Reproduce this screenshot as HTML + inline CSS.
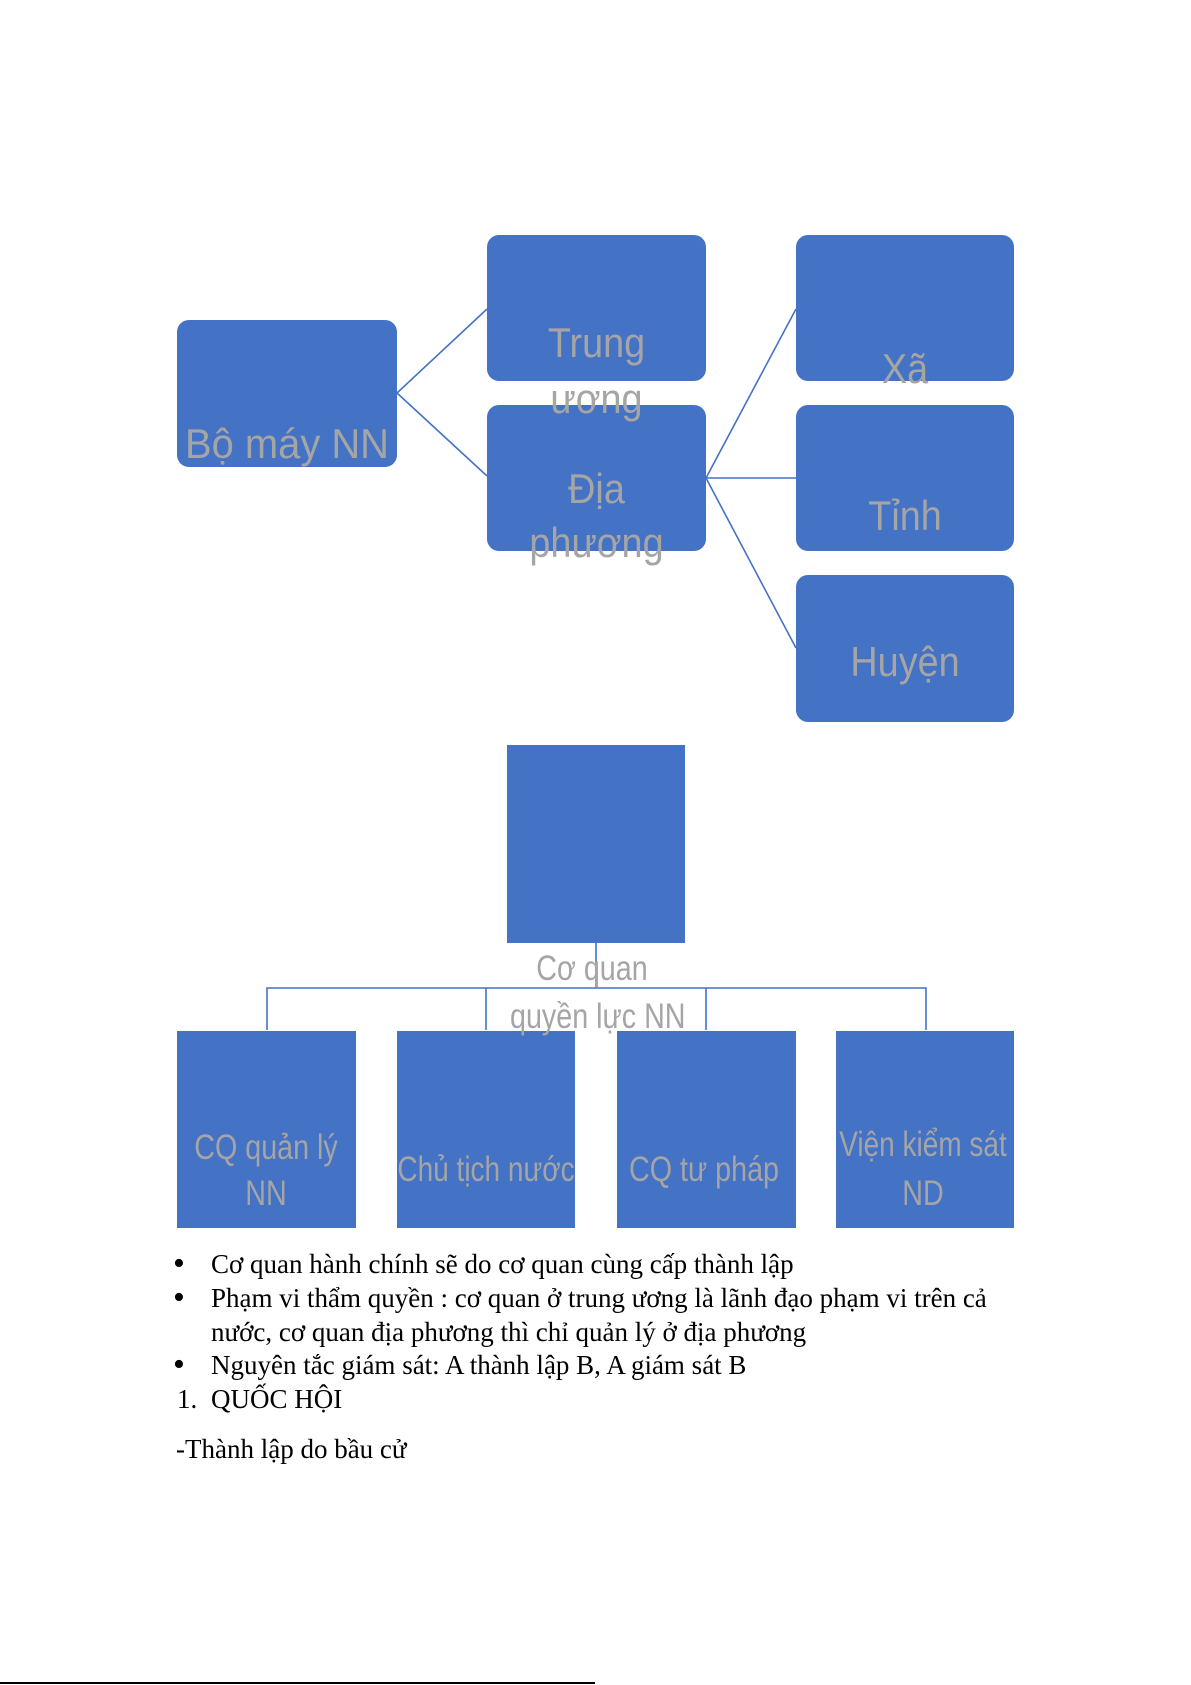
<!DOCTYPE html>
<html><head><meta charset="utf-8"><style>
body{margin:0;width:1191px;height:1685px;background:#fff;position:relative;overflow:hidden}
.b{position:absolute;background:#4472c4}
.r{border-radius:12px}
.t{position:absolute;font-family:"Liberation Sans",sans-serif;color:#a5a5a5;white-space:nowrap;text-align:center;line-height:1}
.p{position:absolute;font-family:"Liberation Serif",serif;font-size:27px;color:#000;white-space:nowrap;line-height:1}
.d{position:absolute;font-family:"Liberation Serif",serif;font-size:34px;line-height:1}
</style></head><body>
<svg style="position:absolute;left:0;top:0" width="1191" height="1685">
<g stroke="#4472c4" stroke-width="1.6" fill="none">
<path d="M397 393 L487 309 M397 393 L487 476"/>
<path d="M706 478 L796 309 M706 478 L796 478 M706 478 L796 648"/>
<path d="M596 943 L596 988 M267 1030 L267 988 L926 988 L926 1030 M486 988 L486 1030 M706 988 L706 1030"/>
</g>
<line x1="0" y1="1683" x2="595" y2="1683" stroke="#000" stroke-width="2"/>
</svg>
<div class="b r" style="left:177px;top:320px;width:220px;height:147px"></div>
<div class="b r" style="left:487px;top:235px;width:219px;height:146px"></div>
<div class="b r" style="left:487px;top:405px;width:219px;height:146px"></div>
<div class="b r" style="left:796px;top:235px;width:218px;height:146px"></div>
<div class="b r" style="left:796px;top:405px;width:218px;height:146px"></div>
<div class="b r" style="left:796px;top:575px;width:218px;height:147px"></div>
<div class="b" style="left:507px;top:745px;width:178px;height:198px"></div>
<div class="b" style="left:177px;top:1031px;width:179px;height:197px"></div>
<div class="b" style="left:397px;top:1031px;width:178px;height:197px"></div>
<div class="b" style="left:617px;top:1031px;width:179px;height:197px"></div>
<div class="b" style="left:836px;top:1031px;width:178px;height:197px"></div>

<div class="t" style="left:177px;width:220px;top:423px;font-size:42px;transform:scaleX(0.95)">Bộ máy NN</div>
<div class="t" style="left:487px;width:219px;top:322px;font-size:42px;transform:scaleX(0.9)">Trung</div>
<div class="t" style="left:487px;width:219px;top:378px;font-size:42px;transform:scaleX(0.9)">ương</div>
<div class="t" style="left:487px;width:219px;top:468px;font-size:42px;transform:scaleX(0.9)">Địa</div>
<div class="t" style="left:487px;width:219px;top:522px;font-size:42px;transform:scaleX(0.9)">phương</div>
<div class="t" style="left:796px;width:218px;top:348px;font-size:42px;transform:scaleX(0.9)">Xã</div>
<div class="t" style="left:796px;width:218px;top:495px;font-size:42px;transform:scaleX(0.9)">Tỉnh</div>
<div class="t" style="left:796px;width:218px;top:641px;font-size:42px;transform:scaleX(0.9)">Huyện</div>
<div class="t" style="left:492px;width:200px;top:951px;font-size:35px;transform:scaleX(0.82)">Cơ quan</div>
<div class="t" style="left:492px;width:200px;top:999px;font-size:35px;transform:scaleX(0.82)">quyền lực NN</div>
<div class="t" style="left:156px;width:220px;top:1130px;font-size:35px;transform:scaleX(0.82)">CQ quản lý</div>
<div class="t" style="left:156px;width:220px;top:1176px;font-size:35px;transform:scaleX(0.82)">NN</div>
<div class="t" style="left:366px;width:240px;top:1152px;font-size:35px;transform:scaleX(0.8)">Chủ tịch nước</div>
<div class="t" style="left:584px;width:240px;top:1152px;font-size:35px;transform:scaleX(0.82)">CQ tư pháp</div>
<div class="t" style="left:803px;width:240px;top:1127px;font-size:35px;transform:scaleX(0.8)">Viện kiểm sát</div>
<div class="t" style="left:803px;width:240px;top:1176px;font-size:35px;transform:scaleX(0.82)">ND</div>

<div class="d" style="left:173px;top:1247px">•</div>
<div class="p" style="left:211px;top:1251px">Cơ quan hành chính sẽ do cơ quan cùng cấp thành lập</div>
<div class="d" style="left:173px;top:1281px">•</div>
<div class="p" style="left:211px;top:1285px">Phạm vi thẩm quyền : cơ quan ở trung ương là lãnh đạo phạm vi trên cả</div>
<div class="p" style="left:211px;top:1319px">nước, cơ quan địa phương thì chỉ quản lý ở địa phương</div>
<div class="d" style="left:173px;top:1348px">•</div>
<div class="p" style="left:211px;top:1352px">Nguyên tắc giám sát: A thành lập B, A giám sát B</div>
<div class="p" style="left:177px;top:1386px">1.</div>
<div class="p" style="left:211px;top:1386px">QUỐC HỘI</div>
<div class="p" style="left:176px;top:1436px">-Thành lập do bầu cử</div>
</body></html>
